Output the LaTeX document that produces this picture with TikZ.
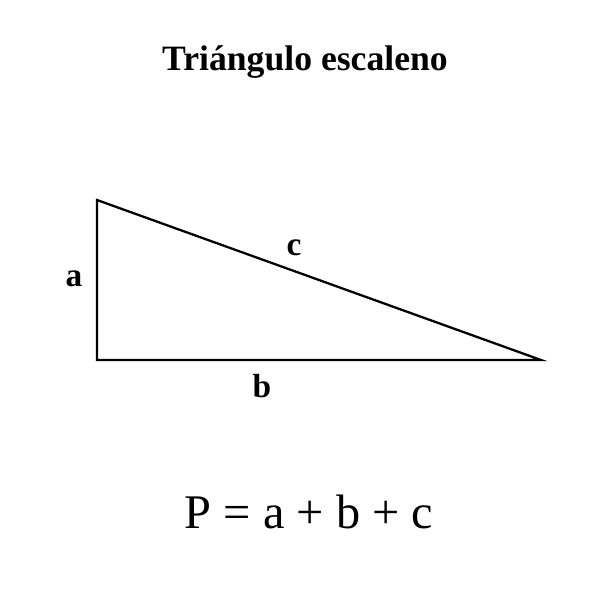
\documentclass[tikz,border=0pt]{standalone}
\usepackage{fontspec}
\setmainfont{Liberation Serif}
\usetikzlibrary{positioning}

\begin{document}
\begin{tikzpicture}[x=0.02cm, y=-0.02cm,
  side/.style={line width=1.3pt, draw=black},
  lbl/.style={font=\fontsize{19}{22}\selectfont\bfseries, inner sep=0pt},
  ttl/.style={font=\fontsize{20.3}{24}\selectfont\bfseries, inner sep=0pt},
  frm/.style={font=\fontsize{27.5}{33}\selectfont, inner sep=0pt}
]
  \useasboundingbox (0,0) rectangle (600,600);

  \node[ttl] (title) at (305,62) {Triángulo escaleno};

  \coordinate (top) at (97,200);
  \coordinate (rgt) at (97,360);
  \coordinate (tip) at (541,360);
  \draw[side] (top) -- (rgt) -- (tip) -- cycle;

  \node[lbl] (la) at (74,279) {a};
  \node[lbl] (lb) at (262,386) {b};
  \node[lbl] (lc) at (294,248) {c};

  \node[frm] (perim) at (309,512) {P = a + b + c};
\end{tikzpicture}
\end{document}
